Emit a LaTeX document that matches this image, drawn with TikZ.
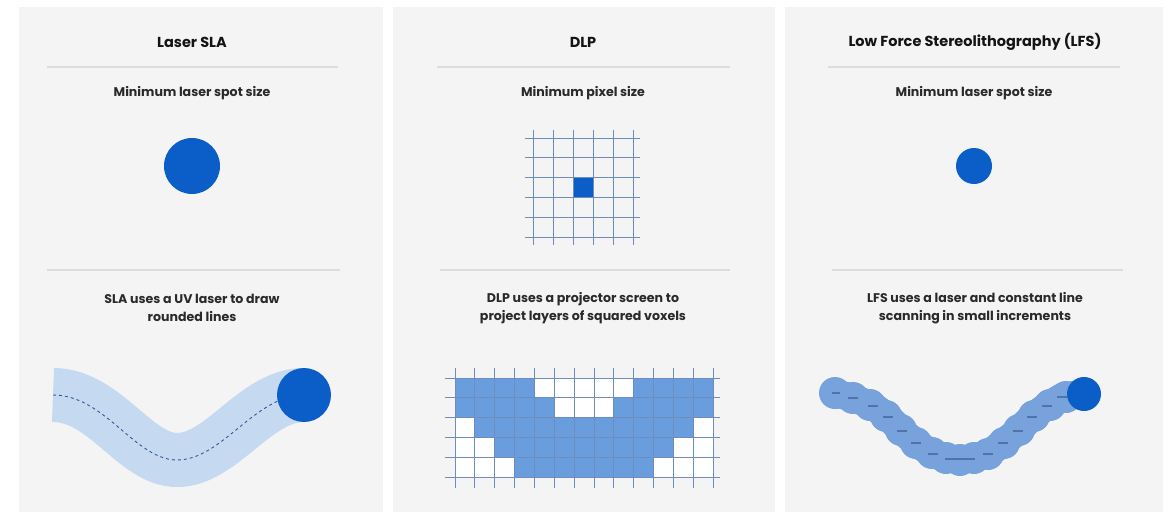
\documentclass[tikz,border=0pt]{standalone}
\usepackage{fontspec}
\setmainfont{Poppins}
\definecolor{panelbg}{HTML}{F4F4F4}
\definecolor{rulegray}{HTML}{DCDCDC}
\definecolor{spotblue}{HTML}{0B5EC8}
\definecolor{bandblue}{HTML}{C5D9F0}
\definecolor{voxblue}{HTML}{6A9DDE}
\definecolor{lfsblue}{HTML}{77A2DC}
\definecolor{dashblue}{HTML}{2F5C9C}
\definecolor{gridline}{HTML}{6F8CBE}
\definecolor{textcol}{HTML}{141414}
\definecolor{captcol}{HTML}{2A2A2A}
\begin{document}
\begin{tikzpicture}[x=1pt,y=-1pt,
  title/.style={font=\bfseries\fontsize{14.5}{17}\selectfont, text=textcol, inner sep=0pt},
  caption/.style={font=\bfseries\fontsize{12.6}{18}\selectfont, text=captcol, align=center, inner sep=0pt},
  panel/.style={fill=panelbg},
  divider/.style={draw=rulegray, line width=1.2pt},
  spot/.style={fill=spotblue},
  gridln/.style={draw=gridline, line width=0.8pt},
  lfsdash/.style={draw=dashblue!85, line width=1.2pt}]
\fill[white] (0,0) rectangle (1171,514);
\useasboundingbox (0,0) rectangle (1171,514);
% panels
\fill[panel] (19,7) rectangle (383,512);
\fill[panel] (393,7) rectangle (775,512);
\fill[panel] (785,7) rectangle (1163,512);
% ---------- panel 1 : Laser SLA
\node[title] (t1) at (192,42) {Laser SLA};
\draw[divider] (47,67) -- (338,67);
\node[caption] (s1) at (192,93) {Minimum laser spot size};
\fill[spot] (192,166) circle[radius=28];
\draw[divider] (47,270) -- (340,270);
\node[caption] (c1) at (192,308) {SLA uses a UV laser to draw\\rounded lines};
\draw[bandblue, line width=54pt] (53,395) .. controls (105,395) and (135,460) .. (177,460)
   .. controls (222,460) and (255,395) .. (304,395);
\draw[dashblue, line width=0.9pt, dash pattern=on 3pt off 3pt] (53,395) .. controls (105,395) and (135,460) .. (177,460)
   .. controls (222,460) and (255,395) .. (304,395);
\fill[spot] (304,395) circle[radius=27];
% ---------- panel 2 : DLP
\node[title] (t2) at (583,42) {DLP};
\draw[divider] (437,67) -- (730,67);
\node[caption] (s2) at (583,93) {Minimum pixel size};
\begin{scope}[shift={(533pt,-138pt)}, x=20pt, y=-19.8pt]
  \fill[spot] (2,2) rectangle (3,3);
  \foreach \i in {0,...,5} {
    \draw[gridln] (\i,-0.4) -- (\i,5.4);
    \draw[gridln] (-0.4,\i) -- (5.35,\i);
  }
\end{scope}
\draw[divider] (440,270) -- (730,270);
\node[caption] (c2) at (583,308) {DLP uses a projector screen to\\project layers of squared voxels};
\begin{scope}[shift={(455pt,-378pt)}, x=19.85pt, y=-19.8pt]
  \fill[white] (0,0) rectangle (13,5);
  \fill[voxblue] (0,0) rectangle (4,1) (9,0) rectangle (13,1)
                 (0,1) rectangle (5,2) (8,1) rectangle (13,2)
                 (1,2) rectangle (12,3)
                 (2,3) rectangle (11,4)
                 (3,4) rectangle (10,5);
  \foreach \i in {0,...,13} \draw[gridln] (\i,-0.5) -- (\i,5.55);
  \foreach \j in {0,...,5} \draw[gridln] (-0.5,\j) -- (13.35,\j);
\end{scope}
% ---------- panel 3 : LFS
\node[title] (t3) at (975,42) {Low Force Stereolithography (LFS)};
\draw[divider] (828,67) -- (1120,67);
\node[caption] (s3) at (974,93) {Minimum laser spot size};
\fill[spot] (974,166) circle[radius=18];
\draw[divider] (832,270) -- (1123,270);
\node[caption] (c3) at (975,308) {LFS uses a laser and constant line\\scanning in small increments};
\draw[lfsblue, line width=28pt, line cap=round, line join=round]
  (835,393) -- (853,398) -- (873,406) -- (888,417) -- (902,431) -- (916,443) -- (933,454)
  -- (946,458) -- (960,460) -- (974,458) -- (988,454) -- (1003,443) -- (1018,431)
  -- (1032,417) -- (1047,406) -- (1062,397) -- (1073,395) -- (1084,394);
\foreach \px/\py in {835/393, 853/398, 870/405, 886/416, 901/430, 916/443, 932/453, 946/458, 960/460,
  974/458, 988/454, 1004/443, 1019/430, 1034/416, 1050/405, 1066/397}
  \fill[lfsblue] (\px,\py) circle[radius=16];
\foreach \px/\py in {853/398, 873/406, 888/417, 902/431, 916/443, 933/454, 988/454, 1003/443, 1018/431, 1032/417, 1047/406, 1062/397}
  \draw[lfsdash] (\px-5,\py) -- (\px+5,\py);
\draw[lfsdash] (832,393) -- (840,393);
\draw[lfsdash] (945,459) -- (975,459);
\fill[spot] (1084,394) circle[radius=17];
\end{tikzpicture}
\end{document}
